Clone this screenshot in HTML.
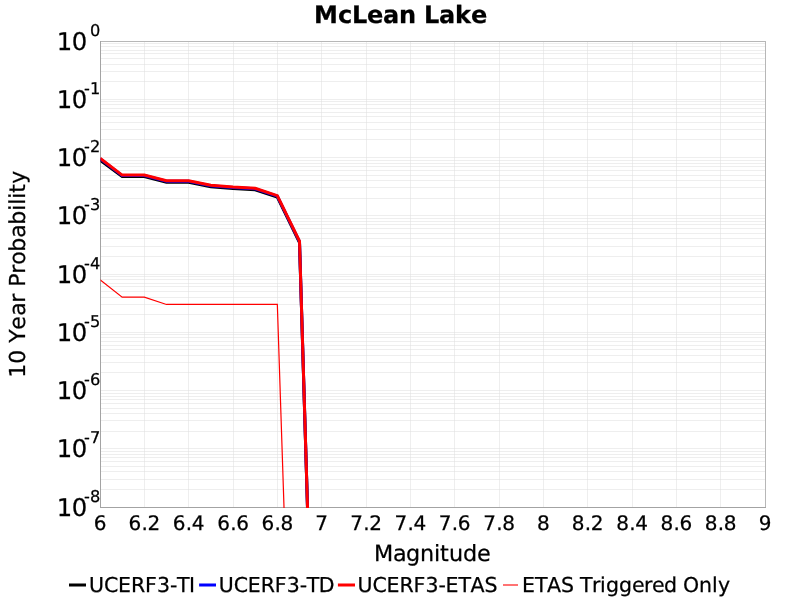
<!DOCTYPE html><html><head><meta charset="utf-8"><title>McLean Lake</title><style>html,body{margin:0;padding:0;background:#fff;width:800px;height:600px;overflow:hidden}</style></head><body><svg width="800" height="600" viewBox="0 0 800 600" style="position:absolute;left:0;top:0;text-rendering:geometricPrecision">
<rect width="800" height="600" fill="#fff"/>
<path d="M144.5 41V507M188.5 41V507M233.5 41V507M277.5 41V507M321.5 41V507M366.5 41V507M410.5 41V507M454.5 41V507M499.5 41V507M543.5 41V507M587.5 41V507M632.5 41V507M676.5 41V507M720.5 41V507" stroke="#dedede" stroke-opacity="0.5" stroke-width="1" fill="none" shape-rendering="crispEdges"/>
<path d="M100 99.5H765M100 81.5H765M100 71.5H765M100 64.5H765M100 58.5H765M100 53.5H765M100 50.5H765M100 46.5H765M100 43.5H765M100 157.5H765M100 139.5H765M100 129.5H765M100 122.5H765M100 116.5H765M100 112.5H765M100 108.5H765M100 104.5H765M100 101.5H765M100 215.5H765M100 198.5H765M100 187.5H765M100 180.5H765M100 175.5H765M100 170.5H765M100 166.5H765M100 163.5H765M100 160.5H765M100 274.5H765M100 256.5H765M100 246.5H765M100 238.5H765M100 233.5H765M100 228.5H765M100 224.5H765M100 221.5H765M100 218.5H765M100 332.5H765M100 314.5H765M100 304.5H765M100 297.5H765M100 291.5H765M100 286.5H765M100 283.5H765M100 279.5H765M100 276.5H765M100 390.5H765M100 372.5H765M100 362.5H765M100 355.5H765M100 349.5H765M100 345.5H765M100 341.5H765M100 337.5H765M100 334.5H765M100 448.5H765M100 431.5H765M100 420.5H765M100 413.5H765M100 408.5H765M100 403.5H765M100 399.5H765M100 396.5H765M100 393.5H765M100 489.5H765M100 479.5H765M100 471.5H765M100 466.5H765M100 461.5H765M100 457.5H765M100 454.5H765M100 451.5H765" stroke="#dedede" stroke-opacity="0.5" stroke-width="1" fill="none" shape-rendering="crispEdges"/>
<path d="M100 41.5H766M765.5 41V508" stroke="#b7b7b7" stroke-width="1" fill="none" shape-rendering="crispEdges"/>
<path d="M100.5 41V508M100 507.5H766" stroke="#a3a3a3" stroke-width="1" fill="none" shape-rendering="crispEdges"/>
<defs><clipPath id="c"><rect x="100.5" y="41" width="665.5" height="467"/></clipPath></defs>
<g clip-path="url(#c)" fill="none" stroke-linejoin="miter">
<polyline points="100.00,160.20 122.17,176.60 144.33,176.60 166.50,182.20 188.67,182.20 210.83,186.70 233.00,188.50 255.17,189.80 277.33,197.20 299.50,242.50 321.67,978.00" stroke="#000" stroke-width="3"/>
<polyline points="100.00,158.70 122.17,175.60 144.33,175.60 166.50,181.20 188.67,181.20 210.83,185.70 233.00,187.50 255.17,188.80 277.33,196.20 299.50,241.50 321.67,978.00" stroke="#00f" stroke-width="3"/>
<polyline points="100.00,158.20 122.17,175.10 144.33,175.10 166.50,180.70 188.67,180.70 210.83,185.20 233.00,187.00 255.17,188.30 277.33,195.70 299.50,241.00 321.67,978.00" stroke="#f00" stroke-width="3"/>
<polyline points="100.00,279.65 122.17,297.18 144.33,297.18 166.50,304.46 188.67,304.46 210.83,304.46 233.00,304.46 255.17,304.46 277.33,304.46 299.50,978.00" stroke="#f00" stroke-width="1.2"/>
</g>
<text x="313.90 337.90 351.90 366.90 382.90 398.90 415.90 423.90 438.90 454.90 470.90" y="23.00" font-family="DejaVu Sans, sans-serif" font-size="24" font-weight="bold" style="font-kerning:none" stroke="#000" stroke-width="0.25" >McLean Lake</text>
<text x="93.70" y="530.30" font-family="DejaVu Sans, sans-serif" font-size="20.0" style="font-kerning:none" stroke="#000" stroke-width="0.25" >6</text>
<text x="128.53 141.53 147.53" y="530.30" font-family="DejaVu Sans, sans-serif" font-size="20.0" style="font-kerning:none" stroke="#000" stroke-width="0.25" >6.2</text>
<text x="172.87 185.87 191.87" y="530.30" font-family="DejaVu Sans, sans-serif" font-size="20.0" style="font-kerning:none" stroke="#000" stroke-width="0.25" >6.4</text>
<text x="217.20 230.20 236.20" y="530.30" font-family="DejaVu Sans, sans-serif" font-size="20.0" style="font-kerning:none" stroke="#000" stroke-width="0.25" >6.6</text>
<text x="261.53 274.53 280.53" y="530.30" font-family="DejaVu Sans, sans-serif" font-size="20.0" style="font-kerning:none" stroke="#000" stroke-width="0.25" >6.8</text>
<text x="315.37" y="530.30" font-family="DejaVu Sans, sans-serif" font-size="20.0" style="font-kerning:none" stroke="#000" stroke-width="0.25" >7</text>
<text x="350.20 363.20 369.20" y="530.30" font-family="DejaVu Sans, sans-serif" font-size="20.0" style="font-kerning:none" stroke="#000" stroke-width="0.25" >7.2</text>
<text x="394.53 407.53 413.53" y="530.30" font-family="DejaVu Sans, sans-serif" font-size="20.0" style="font-kerning:none" stroke="#000" stroke-width="0.25" >7.4</text>
<text x="438.87 451.87 457.87" y="530.30" font-family="DejaVu Sans, sans-serif" font-size="20.0" style="font-kerning:none" stroke="#000" stroke-width="0.25" >7.6</text>
<text x="483.20 496.20 502.20" y="530.30" font-family="DejaVu Sans, sans-serif" font-size="20.0" style="font-kerning:none" stroke="#000" stroke-width="0.25" >7.8</text>
<text x="537.03" y="530.30" font-family="DejaVu Sans, sans-serif" font-size="20.0" style="font-kerning:none" stroke="#000" stroke-width="0.25" >8</text>
<text x="571.87 584.87 590.87" y="530.30" font-family="DejaVu Sans, sans-serif" font-size="20.0" style="font-kerning:none" stroke="#000" stroke-width="0.25" >8.2</text>
<text x="616.20 629.20 635.20" y="530.30" font-family="DejaVu Sans, sans-serif" font-size="20.0" style="font-kerning:none" stroke="#000" stroke-width="0.25" >8.4</text>
<text x="660.53 673.53 679.53" y="530.30" font-family="DejaVu Sans, sans-serif" font-size="20.0" style="font-kerning:none" stroke="#000" stroke-width="0.25" >8.6</text>
<text x="704.87 717.87 723.87" y="530.30" font-family="DejaVu Sans, sans-serif" font-size="20.0" style="font-kerning:none" stroke="#000" stroke-width="0.25" >8.8</text>
<text x="758.70" y="530.30" font-family="DejaVu Sans, sans-serif" font-size="20.0" style="font-kerning:none" stroke="#000" stroke-width="0.25" >9</text>
<text x="56.85 71.85" y="49.60" font-family="DejaVu Sans, sans-serif" font-size="24.3" style="font-kerning:none" stroke="#000" stroke-width="0.25" >10</text>
<text x="90.00" y="35.60" font-family="DejaVu Sans, sans-serif" font-size="16.2" style="font-kerning:none" stroke="#000" stroke-width="0.25" >0</text>
<text x="56.85 71.85" y="107.85" font-family="DejaVu Sans, sans-serif" font-size="24.3" style="font-kerning:none" stroke="#000" stroke-width="0.25" >10</text>
<text x="84.00 90.00" y="93.85" font-family="DejaVu Sans, sans-serif" font-size="16.2" style="font-kerning:none" stroke="#000" stroke-width="0.25" >-1</text>
<text x="56.85 71.85" y="166.10" font-family="DejaVu Sans, sans-serif" font-size="24.3" style="font-kerning:none" stroke="#000" stroke-width="0.25" >10</text>
<text x="84.00 90.00" y="152.10" font-family="DejaVu Sans, sans-serif" font-size="16.2" style="font-kerning:none" stroke="#000" stroke-width="0.25" >-2</text>
<text x="56.85 71.85" y="224.35" font-family="DejaVu Sans, sans-serif" font-size="24.3" style="font-kerning:none" stroke="#000" stroke-width="0.25" >10</text>
<text x="84.00 90.00" y="210.35" font-family="DejaVu Sans, sans-serif" font-size="16.2" style="font-kerning:none" stroke="#000" stroke-width="0.25" >-3</text>
<text x="56.85 71.85" y="282.60" font-family="DejaVu Sans, sans-serif" font-size="24.3" style="font-kerning:none" stroke="#000" stroke-width="0.25" >10</text>
<text x="84.00 90.00" y="268.60" font-family="DejaVu Sans, sans-serif" font-size="16.2" style="font-kerning:none" stroke="#000" stroke-width="0.25" >-4</text>
<text x="56.85 71.85" y="340.85" font-family="DejaVu Sans, sans-serif" font-size="24.3" style="font-kerning:none" stroke="#000" stroke-width="0.25" >10</text>
<text x="84.00 90.00" y="326.85" font-family="DejaVu Sans, sans-serif" font-size="16.2" style="font-kerning:none" stroke="#000" stroke-width="0.25" >-5</text>
<text x="56.85 71.85" y="399.10" font-family="DejaVu Sans, sans-serif" font-size="24.3" style="font-kerning:none" stroke="#000" stroke-width="0.25" >10</text>
<text x="84.00 90.00" y="385.10" font-family="DejaVu Sans, sans-serif" font-size="16.2" style="font-kerning:none" stroke="#000" stroke-width="0.25" >-6</text>
<text x="56.85 71.85" y="457.35" font-family="DejaVu Sans, sans-serif" font-size="24.3" style="font-kerning:none" stroke="#000" stroke-width="0.25" >10</text>
<text x="84.00 90.00" y="443.35" font-family="DejaVu Sans, sans-serif" font-size="16.2" style="font-kerning:none" stroke="#000" stroke-width="0.25" >-7</text>
<text x="56.85 71.85" y="515.60" font-family="DejaVu Sans, sans-serif" font-size="24.3" style="font-kerning:none" stroke="#000" stroke-width="0.25" >10</text>
<text x="84.00 90.00" y="501.60" font-family="DejaVu Sans, sans-serif" font-size="16.2" style="font-kerning:none" stroke="#000" stroke-width="0.25" >-8</text>
<text x="374.00 393.00 406.00 420.00 434.00 440.00 449.00 463.00 477.00" y="561.20" font-family="DejaVu Sans, sans-serif" font-size="22.3" style="font-kerning:none" stroke="#000" stroke-width="0.25" >Magnitude</text>
<text x="-103.50 -89.50 -75.50 -68.50 -55.50 -41.50 -28.50 -19.50 -12.50 0.50 9.50 22.50 36.50 49.50 63.50 69.50 75.50 81.50 90.50" y="0.00" font-family="DejaVu Sans, sans-serif" font-size="22" style="font-kerning:none" stroke="#000" stroke-width="0.25" transform="translate(24.7 274.2) rotate(-90)">10 Year Probability</text>
<rect x="69" y="583.5" width="17.0" height="3" fill="#000"/>
<text x="89.00 104.00 118.00 131.00 145.00 157.00 170.00 177.00 189.00" y="592.00" font-family="DejaVu Sans, sans-serif" font-size="20.5" style="font-kerning:none" stroke="#000" stroke-width="0.25" >UCERF3-TI</text>
<rect x="199.1" y="583.5" width="16.9" height="3" fill="#00f"/>
<text x="218.80 233.80 247.80 260.80 274.80 286.80 299.80 306.80 318.80" y="592.00" font-family="DejaVu Sans, sans-serif" font-size="20.5" style="font-kerning:none" stroke="#000" stroke-width="0.25" >UCERF3-TD</text>
<rect x="337.9" y="583.5" width="17.1" height="3" fill="#f00"/>
<text x="357.60 372.60 386.60 399.60 413.60 425.60 438.60 445.60 458.60 470.60 484.60" y="592.00" font-family="DejaVu Sans, sans-serif" font-size="20.5" style="font-kerning:none" stroke="#000" stroke-width="0.25" >UCERF3-ETAS</text>
<rect x="503" y="584" width="15" height="2" fill="#f00" fill-opacity="0.55"/>
<text x="522.00 535.00 547.00 561.00 574.00 580.00 592.00 600.00 606.00 619.00 632.00 644.00 652.00 664.00 677.00 683.00 699.00 712.00 718.00" y="592.00" font-family="DejaVu Sans, sans-serif" font-size="20.5" style="font-kerning:none" stroke="#000" stroke-width="0.25" >ETAS Triggered Only</text>
</svg></body></html>
